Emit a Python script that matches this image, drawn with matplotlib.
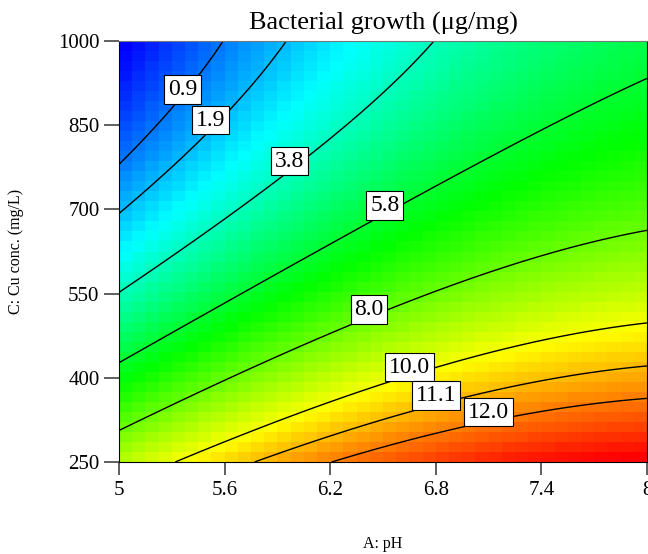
import numpy as np
import matplotlib.pyplot as plt
from matplotlib.colors import LinearSegmentedColormap

plt.rcParams['font.family'] = ['Liberation Serif', 'DejaVu Serif']

# quadratic model in coded factors (A: pH, C: Cu conc.)
# terms: intercept, A, C, AC, A^2, C^2
model_terms = ['1', 'A', 'C', 'AC', 'A2', 'C2']
model_coef = [6.5689, 2.8216, -4.6467, 0.4066, -0.9769, 1.2914]

ph_range = [5.0, 8.0]
cu_range = [250.0, 1000.0]
levels = [0.9, 1.9, 3.8, 5.8, 8.0, 10.0, 11.1, 12.0]
label_ph = [5.36, 5.52, 5.97, 6.51, 6.42, 6.65, 6.80, 7.10]
label_cu = [914, 859, 786, 707, 522, 419, 369, 339]

xticks = [5, 5.6, 6.2, 6.8, 7.4, 8]
xticklabels = ['5', '5.6', '6.2', '6.8', '7.4', '8']
yticks = [250, 400, 550, 700, 850, 1000]


def growth(ph, cu):
    a = (ph - np.mean(ph_range)) / (np.diff(ph_range)[0] / 2)
    c = (cu - np.mean(cu_range)) / (np.diff(cu_range)[0] / 2)
    b = dict(zip(model_terms, model_coef))
    return (b['1'] + b['A'] * a + b['C'] * c + b['AC'] * a * c
            + b['A2'] * a ** 2 + b['C2'] * c ** 2)


fig, ax = plt.subplots(figsize=(6.48, 5.54), dpi=100)
fig.subplots_adjust(left=0.1836, right=0.9985, bottom=0.166, top=0.926)

# coarse colour grid
xe = np.linspace(*ph_range, 41)
ye = np.linspace(*cu_range, 43)
xc = (xe[:-1] + xe[1:]) / 2
yc = (ye[:-1] + ye[1:]) / 2
Z = growth(*np.meshgrid(xc, yc))
cmap = LinearSegmentedColormap.from_list(
    'rainbow5', ['#0000ff', '#00ffff', '#00ff00', '#ffff00', '#ff0000'])
ax.pcolormesh(xe, ye, Z, cmap=cmap, vmin=Z.min(), vmax=Z.max())

# contour lines on a fine grid
Xf, Yf = np.meshgrid(np.linspace(*ph_range, 300), np.linspace(*cu_range, 300))
ax.contour(Xf, Yf, growth(Xf, Yf), levels=levels, colors='black', linewidths=1.0)

# boxed level labels sitting on their lines
for lev, px, py in zip(levels, label_ph, label_cu):
    ax.text(px, py, f'{lev:.1f}', fontsize=17, ha='center', va='center',
            bbox=dict(boxstyle='square,pad=0.16', facecolor='white',
                      edgecolor='black', linewidth=0.8))

ax.set_xlim(ph_range)
ax.set_ylim(cu_range)
ax.set_xticks(xticks)
ax.set_xticklabels(xticklabels)
ax.set_yticks(yticks)
ax.tick_params(axis='x', length=9, width=1.2, color='#444444', labelsize=15, pad=5)
ax.tick_params(axis='y', length=11, width=1.2, color='#444444', labelsize=15, pad=3)
for side in ['left', 'bottom', 'right']:
    ax.spines[side].set_color('black')
ax.spines['top'].set_color('#777777')

ax.set_title('Bacterial growth (\u03bcg/mg)', fontsize=19, pad=8)
ax.set_xlabel('A: pH', fontsize=11.5)
ax.xaxis.set_label_coords(0.5, -0.195)
ax.xaxis.label.set_va('center')
ax.set_ylabel('C: Cu conc. (mg/L)', fontsize=11.5)
ax.yaxis.set_label_coords(-0.195, 0.5)
ax.yaxis.label.set_va('center')

fig.savefig('out.png')
